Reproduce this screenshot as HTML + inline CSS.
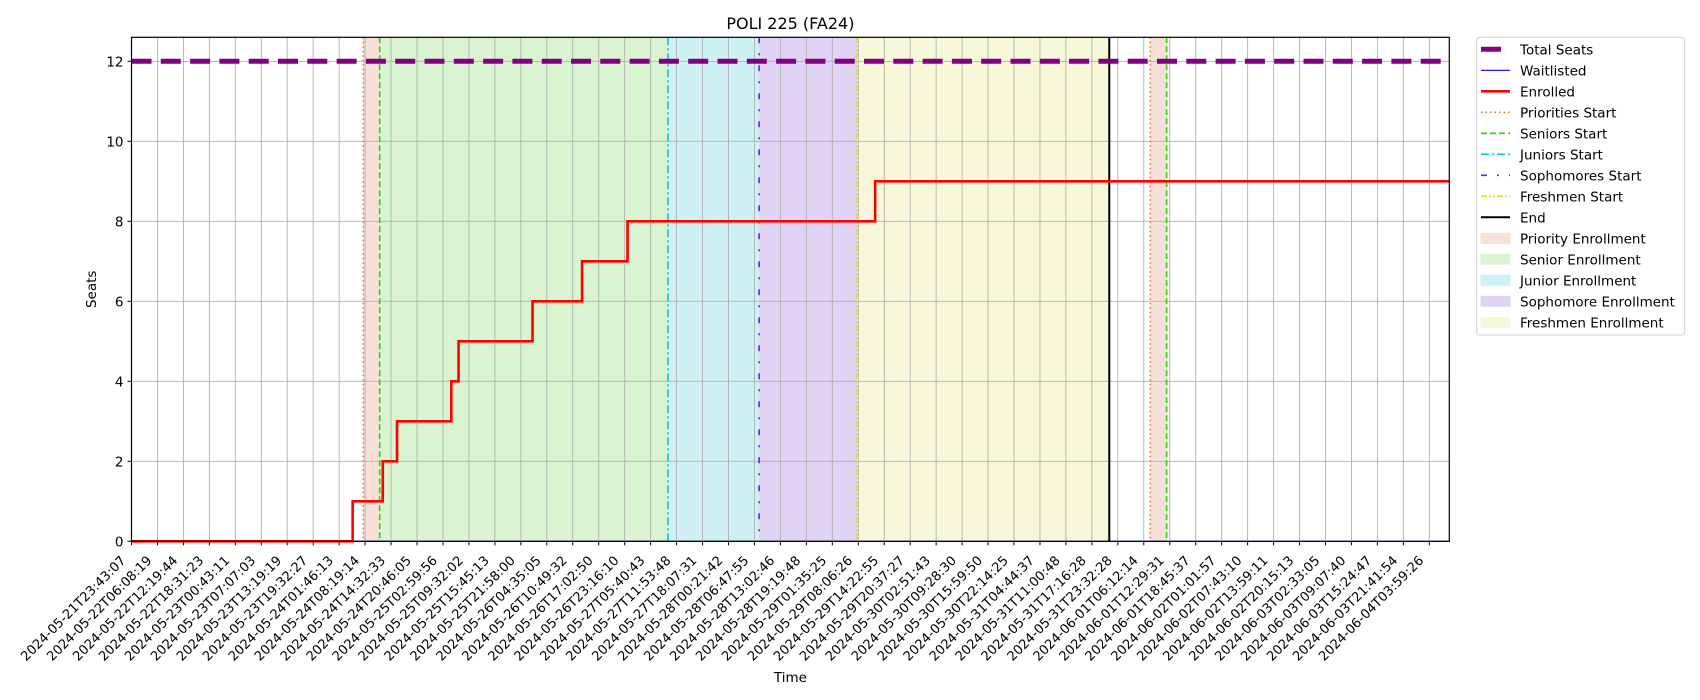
<!DOCTYPE html>
<html><head><meta charset="utf-8"><style>body{margin:0;background:#fff}svg{display:block;font-family:"DejaVu Sans","Liberation Sans",sans-serif}</style></head>
<body>
<svg id="c" width="1700" height="700"></svg>
<script>
const tickLabels=["2024-05-21T23:43:07","2024-05-22T06:08:19","2024-05-22T12:19:44","2024-05-22T18:31:23","2024-05-23T00:43:11","2024-05-23T07:07:03","2024-05-23T13:19:19","2024-05-23T19:32:27","2024-05-24T01:46:13","2024-05-24T08:19:14","2024-05-24T14:32:33","2024-05-24T20:46:05","2024-05-25T02:59:56","2024-05-25T09:32:02","2024-05-25T15:45:13","2024-05-25T21:58:00","2024-05-26T04:35:05","2024-05-26T10:49:32","2024-05-26T17:02:50","2024-05-26T23:16:10","2024-05-27T05:40:43","2024-05-27T11:53:48","2024-05-27T18:07:31","2024-05-28T00:21:42","2024-05-28T06:47:55","2024-05-28T13:02:46","2024-05-28T19:19:48","2024-05-29T01:35:25","2024-05-29T08:06:26","2024-05-29T14:22:55","2024-05-29T20:37:27","2024-05-30T02:51:43","2024-05-30T09:28:30","2024-05-30T15:59:50","2024-05-30T22:14:25","2024-05-31T04:44:37","2024-05-31T11:00:48","2024-05-31T17:16:28","2024-05-31T23:32:28","2024-06-01T06:12:14","2024-06-01T12:29:31","2024-06-01T18:45:37","2024-06-02T01:01:57","2024-06-02T07:43:10","2024-06-02T13:59:11","2024-06-02T20:15:13","2024-06-03T02:33:05","2024-06-03T09:07:40","2024-06-03T15:24:47","2024-06-03T21:41:54","2024-06-04T03:59:26"];
const yTicks=[0,2,4,6,8,10,12];
// enrolled step changes: position (tick units) and new value
const enrolledX=[0,8.52,9.68,10.23,12.32,12.6,15.45,17.36,19.11,28.65,50.77];
const enrolledY=[0,1,2,3,4,5,6,7,8,9,9];
const totalSeats=12;
const waitlisted=0;
const eventNames=["Priorities Start","Seniors Start","Juniors Start","Sophomores Start","Freshmen Start","End","Priorities Start","Seniors Start"];
const eventX=[8.93,9.56,20.67,24.18,27.95,37.67,39.25,39.88];
const periodNames=["Priority Enrollment","Senior Enrollment","Junior Enrollment","Sophomore Enrollment","Freshmen Enrollment","Priority Enrollment"];
const periodStart=[8.93,9.56,20.67,24.18,27.95,39.25];
const periodEnd=[9.56,20.67,24.18,27.95,37.67,39.88];

const L=131.5,R=1449.3,T=37.3,B=541.3,XMAX=50.77,YMAX=12.6;
const X=u=>L+(R-L)*u/XMAX, Y=v=>B-(B-T)*v/YMAX;
const svg=document.getElementById('c');const NS="http://www.w3.org/2000/svg";
function mk(t,a,p){const e=document.createElementNS(NS,t);for(const k in a)e.setAttribute(k,a[k]);(p||svg).appendChild(e);return e;}
const pcol={"Priority Enrollment":"#f7e0d6","Senior Enrollment":"#daf4d2","Junior Enrollment":"#cef2f3","Sophomore Enrollment":"#e1d3f4","Freshmen Enrollment":"#f7f8da"};
const ecol={"Priorities Start":["#e8703a","1.5 3"],"Seniors Start":["#33cc11","6 3"],"Juniors Start":["#11c4d4","8 3 2 3"],"Sophomores Start":["#6a22d8","6 10 2 10"],"Freshmen Start":["#dede22","6 2 2 2 2 2"],"End":["#000",""]};
periodStart.forEach((s,i)=>{const r=mk('rect',{x:X(s),y:T,width:X(periodEnd[i])-X(s),height:B-T,fill:pcol[periodNames[i]]});

});
tickLabels.forEach((t,i)=>{const x=X(i);
const g=mk('line',{x1:x,x2:x,y1:T,y2:B,stroke:"#b0b0b0","stroke-width":0.9});
const tk=mk('line',{x1:x,x2:x,y1:B,y2:B+4,stroke:"#000","stroke-width":1});
const ax=x-5, ay=B+20;
const tx=mk('text',{x:ax,y:ay,"font-size":13,"text-anchor":"end",transform:`rotate(-45 ${ax} ${ay})`});tx.textContent=t;
});
yTicks.forEach(v=>{const y=Y(v);
const g=mk('line',{x1:L,x2:R,y1:y,y2:y,stroke:"#b0b0b0","stroke-width":0.9});
const tk=mk('line',{x1:L-4,x2:L,y1:y,y2:y,stroke:"#000"});
const tx=mk('text',{x:L-8,y:y+5,"font-size":13.5,"text-anchor":"end"});tx.textContent=v;});
eventX.forEach((u,i)=>{const c=ecol[eventNames[i]];const l=mk('line',{x1:X(u),x2:X(u),y1:T,y2:B,stroke:c[0],"stroke-width":eventNames[i]=="End"?2:1.6,"stroke-dasharray":c[1]});
});
const ts=mk('line',{x1:L,x2:R,y1:Y(totalSeats),y2:Y(totalSeats),stroke:"#800080","stroke-width":5,"stroke-dasharray":"20 9.3"});

const wl=mk('line',{x1:L,x2:R,y1:Y(waitlisted),y2:Y(waitlisted),stroke:"#0000ff","stroke-width":1.2});

let d=`M${X(enrolledX[0])},${Y(enrolledY[0])}`;
for(let i=1;i<enrolledX.length;i++){d+=`L${X(enrolledX[i])},${Y(enrolledY[i-1])}L${X(enrolledX[i])},${Y(enrolledY[i])}`;}
const en=mk('path',{d,fill:"none",stroke:"#ff0000","stroke-width":2.6,"stroke-linejoin":"miter"});

const fr=mk('rect',{x:L,y:T,width:R-L,height:B-T,fill:"none",stroke:"#000","stroke-width":1.2});
const ti=mk('text',{x:(L+R)/2,y:29,"font-size":16,"text-anchor":"middle"});ti.textContent="POLI 225 (FA24)";
const yl=mk('text',{x:96,y:(T+B)/2,"font-size":13.5,"text-anchor":"middle",transform:`rotate(-90 96 ${(T+B)/2})`});yl.textContent="Seats";
const xl=mk('text',{x:(L+R)/2,y:682,"font-size":13.5,"text-anchor":"middle"});xl.textContent="Time";
// legend
const lg=mk('g',{});
mk('rect',{x:1476.7,y:37.3,width:208,height:297.7,rx:3,fill:"#fff",stroke:"#d0d0d0"},lg);
const items=[["Total Seats","line","#800080",5,"20 9"],["Waitlisted","line","#0000ff",1.2,""],["Enrolled","line","#ff0000",2.6,""],["Priorities Start","line","#e8703a",1.6,"1.5 3"],["Seniors Start","line","#33cc11",1.6,"6 3"],["Juniors Start","line","#11c4d4",1.6,"8 3 2 3"],["Sophomores Start","line","#6a22d8",1.6,"6 10 2 10"],["Freshmen Start","line","#dede22",1.6,"6 2 2 2 2 2"],["End","line","#000",2,""],["Priority Enrollment","patch","#f7e0d6"],["Senior Enrollment","patch","#daf4d2"],["Junior Enrollment","patch","#cef2f3"],["Sophomore Enrollment","patch","#e1d3f4"],["Freshmen Enrollment","patch","#f7f8da"]];
items.forEach((it,i)=>{const y=49.3+i*21;
const g=mk('g',{},lg);
if(it[1]=="line"){mk('line',{x1:1481,x2:i==0?1501:1510,y1:y,y2:y,stroke:it[2],"stroke-width":it[3],"stroke-dasharray":it[4]},g);}
else{mk('rect',{x:1481,y:y-5,width:29,height:10,fill:it[2],stroke:it[2]},g);}
const t=mk('text',{x:1520,y:y+5,"font-size":13.5},g);t.textContent=it[0];});
</script>
</body></html>
